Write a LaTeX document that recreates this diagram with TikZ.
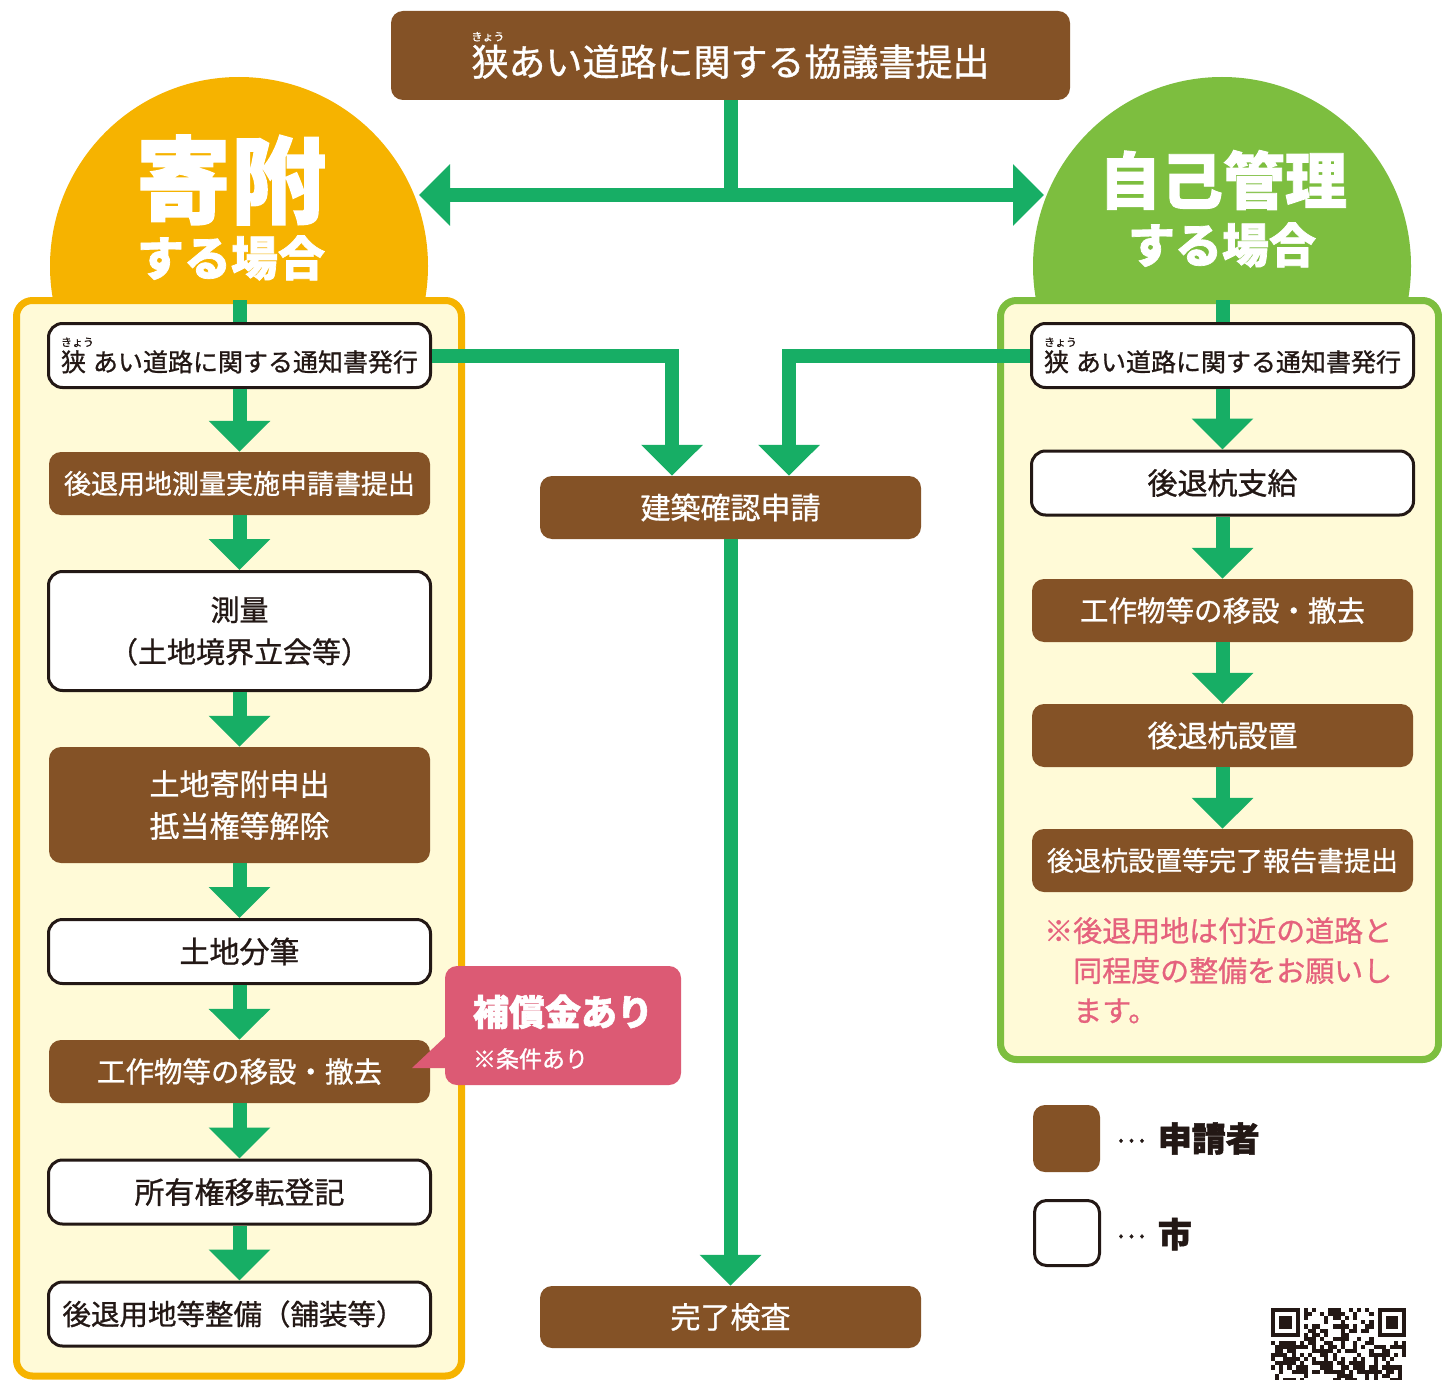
\documentclass[tikz,border=0pt]{standalone}
\usepackage{fontspec}
\setmainfont{Noto Sans CJK JP}[FakeBold=0.9]
\newfontfamily\jpheavy{Noto Sans CJK JP}[BoldFeatures={FakeBold=1.5}]
\newfontfamily\jpmid{Noto Sans CJK JP}[FakeBold=1.2]
\usetikzlibrary{arrows.meta,calc}
\definecolor{brownbox}{HTML}{845226}
\definecolor{flowgreen}{HTML}{17AE65}
\definecolor{orangehd}{HTML}{F6B300}
\definecolor{greenhd}{HTML}{7DBE3F}
\definecolor{panelfill}{HTML}{FFFAD7}
\definecolor{inkdark}{HTML}{231815}
\definecolor{calloutpink}{HTML}{DC5A74}
\definecolor{notepink}{HTML}{E5627D}
\newcommand\fsz[2]{\fontsize{#1pt}{#2pt}\selectfont}
\newcommand\kyo[3]{\makebox[#3pt][l]{\rlap{\raisebox{#2pt}{\fsz{11}{11}きょう}}狭}}
\tikzset{
  appbox/.style={fill=brownbox, rounded corners=12pt, text=white, minimum width=381pt,
    minimum height=63pt, inner sep=0pt, align=center},
  citybox/.style={fill=white, draw=inkdark, line width=3pt, rounded corners=14pt, text=inkdark,
    minimum width=382pt, minimum height=64pt, inner sep=0pt, align=center},
  flow/.style={draw=flowgreen, line width=14pt, -{Triangle[width=60pt,length=31pt]}},
  flowline/.style={draw=flowgreen, line width=14pt},
  hdtext/.style={text=white, inner sep=0pt},
  plain/.style={inner sep=0pt}
}
\begin{document}
\begin{tikzpicture}[x=1pt,y=-1pt]
\useasboundingbox (0,0) rectangle (1442,1380);
\fill[white] (0,0) rectangle (1442,1380);
% header circles
\fill[orangehd] (239,266) circle (189);
\fill[greenhd] (1222,266) circle (189);
% panels
\draw[orangehd, fill=panelfill, line width=7pt, rounded corners=16pt] (16.5,300.5) rectangle (461.5,1376);
\draw[greenhd, fill=panelfill, line width=7pt, rounded corners=16pt] (1000.5,300.5) rectangle (1438.5,1059.5);
% header texts
\node[hdtext, font=\jpheavy\bfseries\fsz{95}{95}] (kifu) at (231,180) {寄附};
\node[hdtext, font=\jpheavy\bfseries\fsz{47}{47}] (kifu2) at (231,258) {する場合};
\node[hdtext, font=\jpheavy\bfseries\fsz{62}{62}] (jiko) at (1223,180) {自己管理};
\node[hdtext, font=\jpheavy\bfseries\fsz{47}{47}] (jiko2) at (1222,245) {する場合};
% top box
\node[appbox, minimum width=679pt, minimum height=89pt, font=\fsz{37}{40}] (top) at (730.5,55.5)
  {\kyo{11}{35}{37}あい道路に関する協議書提出};
\coordinate (junc) at (730.5,195);
\coordinate (ltip) at (419,195);
\coordinate (rtip) at (1044,195);
\draw[flowline] (top.south) -- (junc);
\draw[flow] (junc) -- (ltip);
\draw[flow] (junc) -- (rtip);
% left column
\node[citybox, font=\fsz{25}{28}] (l1) at (239.5,355.5) {\kyo{11}{25}{32}あい道路に関する通知書発行};
\node[appbox, font=\fsz{27}{30}] (l2) at (239.5,483.5) {後退用地測量実施申請書提出};
\node[citybox, minimum height=119pt, font=\fsz{29}{42}] (l3) at (239.5,631) {測量\\（土地境界立会等）};
\node[appbox, minimum height=116pt, font=\fsz{30}{42}] (l4) at (239.5,805) {土地寄附申出\\抵当権等解除};
\node[citybox, font=\fsz{30}{32}] (l5) at (239.5,951.5) {土地分筆};
\node[appbox, font=\fsz{28.5}{30}] (l6) at (239.5,1071.5) {工作物等の移設・撤去};
\node[citybox, font=\fsz{30}{32}] (l7) at (239.5,1192) {所有権移転登記};
\node[citybox, font=\fsz{28.5}{30}] (l8) at (239.5,1314) {後退用地等整備（舗装等）\rule{12pt}{0pt}};
\coordinate (ltop) at (239.5,300);
\draw[flowline] (ltop) -- (l1.north);
\draw[flow] (l1.south) -- (l2.north);
\draw[flow] (l2.south) -- (l3.north);
\draw[flow] (l3.south) -- (l4.north);
\draw[flow] (l4.south) -- (l5.north);
\draw[flow] (l5.south) -- (l6.north);
\draw[flow] (l6.south) -- (l7.north);
\draw[flow] (l7.south) -- (l8.north);
% right column
\node[citybox, font=\fsz{25}{28}] (r1) at (1222.5,355.5) {\kyo{11}{25}{32}あい道路に関する通知書発行};
\node[citybox, font=\fsz{30}{32}] (r2) at (1222.5,483) {後退杭支給};
\node[appbox, font=\fsz{28.5}{30}] (r3) at (1222.5,610.5) {工作物等の移設・撤去};
\node[appbox, font=\fsz{30}{32}] (r4) at (1222.5,735.5) {後退杭設置};
\node[appbox, font=\fsz{27}{30}] (r5) at (1222.5,860.5) {後退杭設置等完了報告書提出};
\coordinate (rtop) at (1222.5,300);
\draw[flowline] (rtop) -- (r1.north);
\draw[flow] (r1.south) -- (r2.north);
\draw[flow] (r2.south) -- (r3.north);
\draw[flow] (r3.south) -- (r4.north);
\draw[flow] (r4.south) -- (r5.north);
\node[plain, anchor=north west, align=left, text=notepink, font=\fsz{29}{40}] (note) at (1044,917)
  {※後退用地は付近の道路と\\\hspace*{29pt}同程度の整備をお願いし\\\hspace*{29pt}ます。};
% middle column
\node[appbox, font=\fsz{30}{32}] (k) at (730.5,507.5) {建築確認申請};
\node[appbox, minimum height=62pt, font=\fsz{30}{32}] (done) at (730.5,1317) {完了検査};
\draw[flow] (l1.east) -| ($(k.north)+(-58.5,0)$);
\draw[flow] (r1.west) -| ($(k.north)+(58.5,0)$);
\draw[flow] (k.south) -- (done.north);
% callout
\node[fill=calloutpink, rounded corners=12pt, minimum width=236pt, minimum height=119pt, inner sep=0pt,
  text=white, align=left, font=\jpmid\fsz{23}{42}] (co) at (563,1025.5)
  {{\rule{0pt}{44pt}\jpheavy\bfseries\fsz{36}{42}補償金あり}\\※条件あり};
\fill[calloutpink] ($(co.south west)+(1,-49)$) -- (412,1068) -- ($(co.south west)+(8,-17)$) -- cycle;
% legend
\node[fill=brownbox, rounded corners=12pt, minimum size=67pt, inner sep=0pt] (legapp) at (1066.5,1138.5) {};
\node[fill=white, draw=inkdark, line width=3pt, rounded corners=12pt, minimum size=65pt, inner sep=0pt] (legcity) at (1067,1233) {};
\node[plain, anchor=west, text=inkdark] (legapptext) at (1116,1138.5)
  {\raisebox{9pt}{\fsz{28}{30}…}\hspace{12pt}{\jpheavy\bfseries\fsz{34}{36}申請者}};
\node[plain, anchor=west, text=inkdark] (legcitytext) at (1116,1234)
  {\raisebox{9pt}{\fsz{28}{30}…}\hspace{12pt}{\jpheavy\bfseries\fsz{34}{36}市}};
% QR code (partial)
\pgfmathsetseed{11}
\foreach \i in {0,...,32}{
  \foreach \j in {0,...,17}{
    \pgfmathtruncatemacro\skipit{(\i<8 && \j<8) || (\i>24 && \j<8)}
    \pgfmathtruncatemacro\on{rnd<0.5}
    \ifnum\skipit=0 \ifnum\on=1
      \fill[inkdark] (1271+\i*4.1,1308+\j*4.1) rectangle ++(4.15,4.15);
    \fi\fi
  }
}
\foreach \ox in {1271,1377.6}{
  \fill[inkdark] (\ox,1308) rectangle ++(28.7,28.7);
  \fill[white] (\ox+4.1,1312.1) rectangle ++(20.5,20.5);
  \fill[inkdark] (\ox+8.2,1316.2) rectangle ++(12.3,12.3);
}
\end{tikzpicture}
\end{document}
